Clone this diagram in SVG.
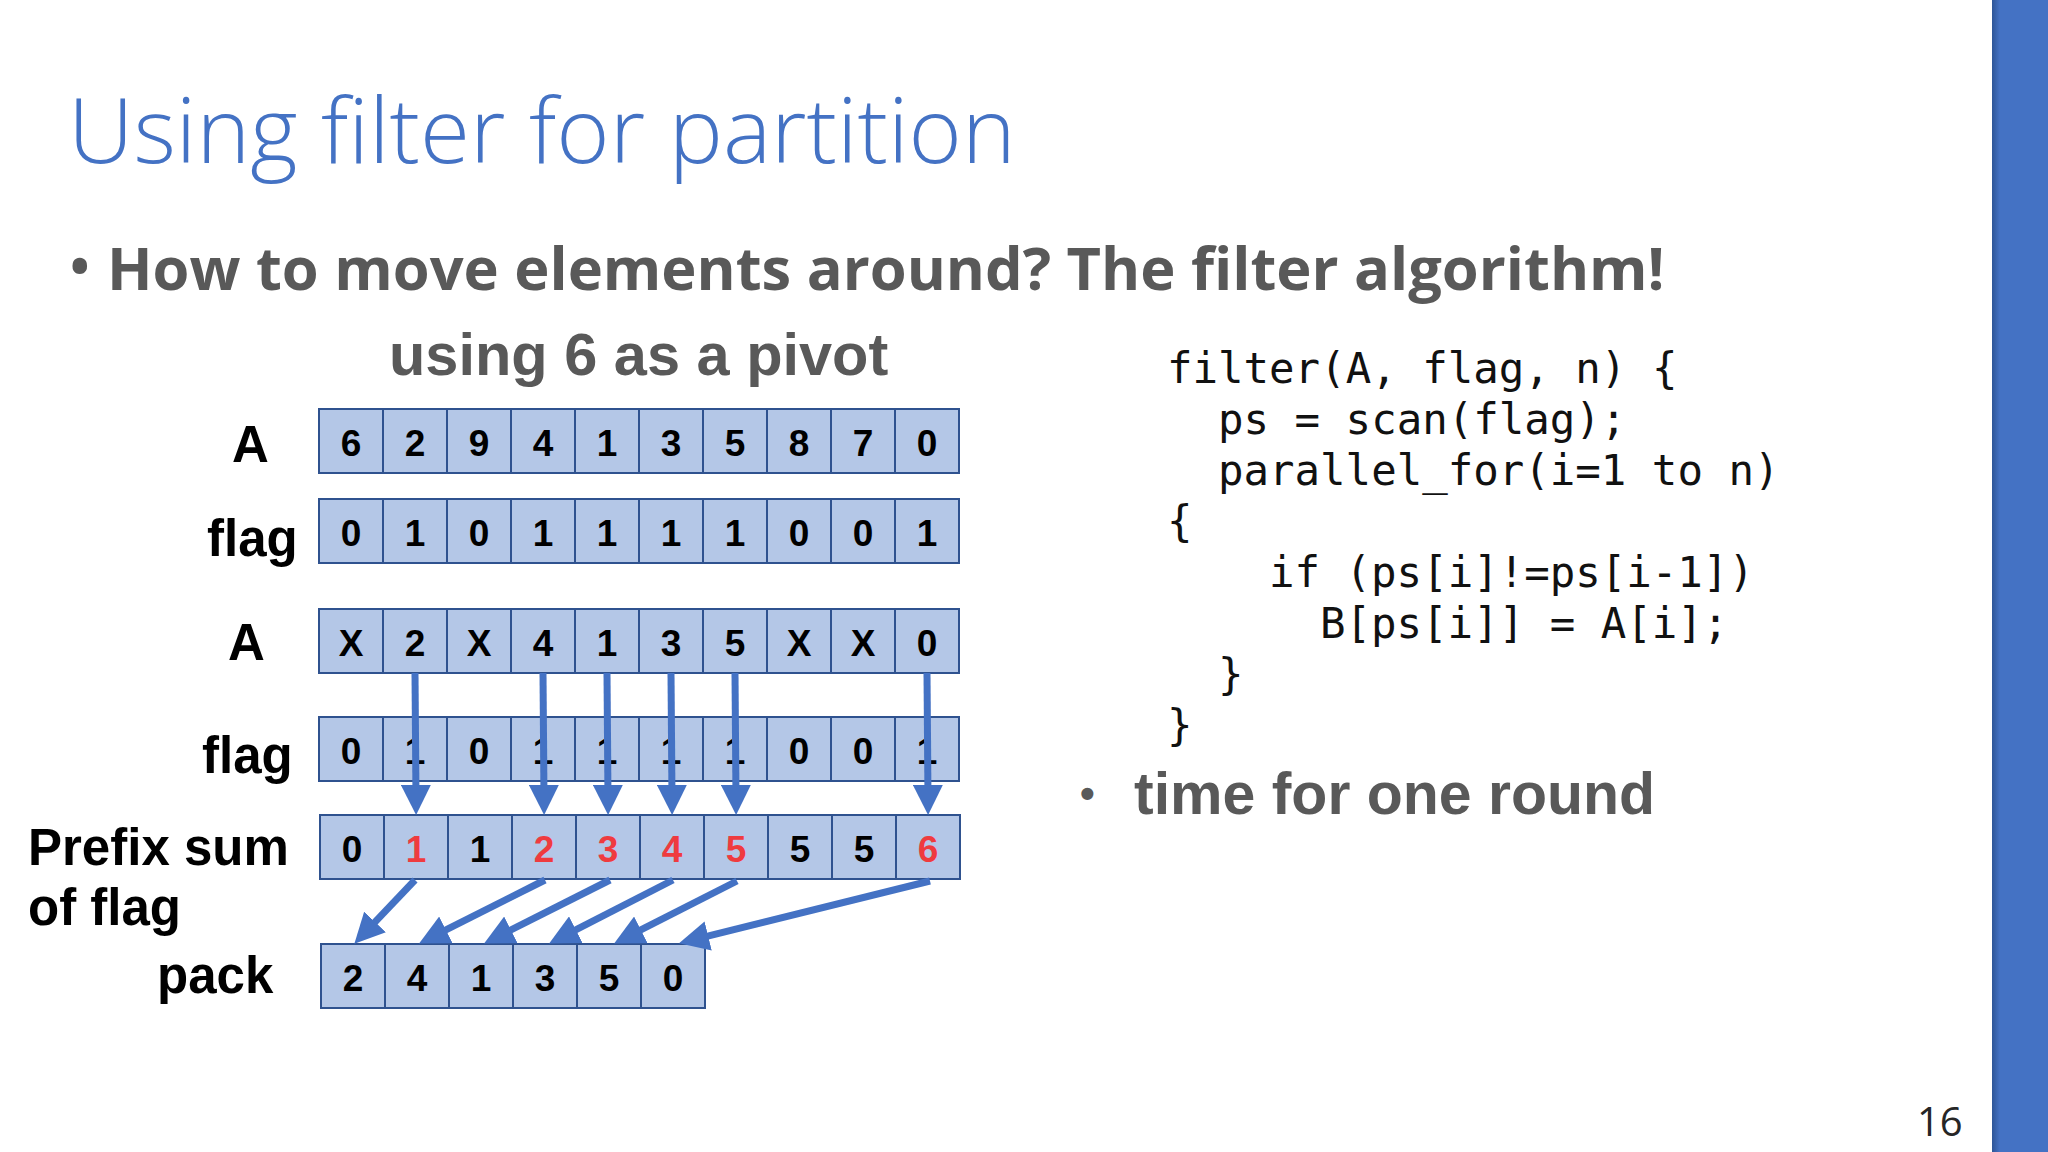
<svg xmlns="http://www.w3.org/2000/svg" width="2048" height="1152" viewBox="0 0 2048 1152">
<defs>
<style>
.cell{fill:#B4C7E7;stroke:#2F528F;stroke-width:2}
.num{font-family:"Liberation Sans",Arial,sans-serif;font-weight:bold;font-size:37px;fill:#000;text-anchor:middle}
.red{fill:#EF3B3F}
.lbl{font-family:"Liberation Sans",Arial,sans-serif;font-weight:bold;font-size:51px;fill:#000}
.code{font-family:"DejaVu Sans Mono",monospace;font-size:42.4px;fill:#111}
.arrow{stroke:#4472C4;stroke-width:7;fill:none;marker-end:url(#ah)}
</style>
<marker id="ah" markerUnits="userSpaceOnUse" markerWidth="30" markerHeight="30" refX="14" refY="14" orient="auto" viewBox="0 0 28 28">
<path d="M0,0 L28,14 L0,28 Z" fill="#4472C4"/>
</marker>
<linearGradient id="barshade" x1="0" x2="1" y1="0" y2="0">
<stop offset="0" stop-color="#2E5597"/>
<stop offset="1" stop-color="#4472C4"/>
</linearGradient>
</defs>
<rect width="2048" height="1152" fill="#fff"/>
<g id="sidebar">
<rect x="1992" y="0" width="56" height="1152" fill="#4472C4"/>
<rect x="1992" y="0" width="8" height="1152" fill="url(#barshade)"/>
</g>
<g id="title">
<text x="68" y="163" font-family="'Open Sans','Noto Sans',sans-serif" font-weight="300" font-size="91" fill="#4472C4">Using filter for partition</text>
</g>
<g id="bullet1">
<text x="70" y="285" font-family="'Open Sans','Noto Sans',sans-serif" font-weight="bold" font-size="52" fill="#595959">•</text>
<text x="107" y="290" font-family="'Open Sans','Noto Sans',sans-serif" font-weight="bold" font-size="59.6" fill="#595959">How to move elements around? The filter algorithm!</text>
</g>
<g id="pivot-caption">
<text x="389" y="375" font-family="'Liberation Sans',Arial,sans-serif" font-weight="bold" font-size="59.5" fill="#595959">using 6 as a pivot</text>
</g>
<g id="labels">
<text class="lbl" x="232" y="462">A</text>
<text class="lbl" x="207" y="556">flag</text>
<text class="lbl" x="228" y="660">A</text>
<text class="lbl" x="202" y="773">flag</text>
<text class="lbl" x="28" y="865">Prefix sum</text>
<text class="lbl" x="28" y="925">of flag</text>
<text class="lbl" x="157" y="993">pack</text>
</g>
<g id="row-A1">
<g id="a1-0"><rect class="cell" x="319" y="409" width="64" height="64"/><text class="num" x="351" y="456">6</text></g>
<g id="a1-1"><rect class="cell" x="383" y="409" width="64" height="64"/><text class="num" x="415" y="456">2</text></g>
<g id="a1-2"><rect class="cell" x="447" y="409" width="64" height="64"/><text class="num" x="479" y="456">9</text></g>
<g id="a1-3"><rect class="cell" x="511" y="409" width="64" height="64"/><text class="num" x="543" y="456">4</text></g>
<g id="a1-4"><rect class="cell" x="575" y="409" width="64" height="64"/><text class="num" x="607" y="456">1</text></g>
<g id="a1-5"><rect class="cell" x="639" y="409" width="64" height="64"/><text class="num" x="671" y="456">3</text></g>
<g id="a1-6"><rect class="cell" x="703" y="409" width="64" height="64"/><text class="num" x="735" y="456">5</text></g>
<g id="a1-7"><rect class="cell" x="767" y="409" width="64" height="64"/><text class="num" x="799" y="456">8</text></g>
<g id="a1-8"><rect class="cell" x="831" y="409" width="64" height="64"/><text class="num" x="863" y="456">7</text></g>
<g id="a1-9"><rect class="cell" x="895" y="409" width="64" height="64"/><text class="num" x="927" y="456">0</text></g>
</g>
<g id="row-flag1">
<g id="f1-0"><rect class="cell" x="319" y="499" width="64" height="64"/><text class="num" x="351" y="546">0</text></g>
<g id="f1-1"><rect class="cell" x="383" y="499" width="64" height="64"/><text class="num" x="415" y="546">1</text></g>
<g id="f1-2"><rect class="cell" x="447" y="499" width="64" height="64"/><text class="num" x="479" y="546">0</text></g>
<g id="f1-3"><rect class="cell" x="511" y="499" width="64" height="64"/><text class="num" x="543" y="546">1</text></g>
<g id="f1-4"><rect class="cell" x="575" y="499" width="64" height="64"/><text class="num" x="607" y="546">1</text></g>
<g id="f1-5"><rect class="cell" x="639" y="499" width="64" height="64"/><text class="num" x="671" y="546">1</text></g>
<g id="f1-6"><rect class="cell" x="703" y="499" width="64" height="64"/><text class="num" x="735" y="546">1</text></g>
<g id="f1-7"><rect class="cell" x="767" y="499" width="64" height="64"/><text class="num" x="799" y="546">0</text></g>
<g id="f1-8"><rect class="cell" x="831" y="499" width="64" height="64"/><text class="num" x="863" y="546">0</text></g>
<g id="f1-9"><rect class="cell" x="895" y="499" width="64" height="64"/><text class="num" x="927" y="546">1</text></g>
</g>
<g id="row-A2">
<g id="a2-0"><rect class="cell" x="319" y="609" width="64" height="64"/><text class="num" x="351" y="656">X</text></g>
<g id="a2-1"><rect class="cell" x="383" y="609" width="64" height="64"/><text class="num" x="415" y="656">2</text></g>
<g id="a2-2"><rect class="cell" x="447" y="609" width="64" height="64"/><text class="num" x="479" y="656">X</text></g>
<g id="a2-3"><rect class="cell" x="511" y="609" width="64" height="64"/><text class="num" x="543" y="656">4</text></g>
<g id="a2-4"><rect class="cell" x="575" y="609" width="64" height="64"/><text class="num" x="607" y="656">1</text></g>
<g id="a2-5"><rect class="cell" x="639" y="609" width="64" height="64"/><text class="num" x="671" y="656">3</text></g>
<g id="a2-6"><rect class="cell" x="703" y="609" width="64" height="64"/><text class="num" x="735" y="656">5</text></g>
<g id="a2-7"><rect class="cell" x="767" y="609" width="64" height="64"/><text class="num" x="799" y="656">X</text></g>
<g id="a2-8"><rect class="cell" x="831" y="609" width="64" height="64"/><text class="num" x="863" y="656">X</text></g>
<g id="a2-9"><rect class="cell" x="895" y="609" width="64" height="64"/><text class="num" x="927" y="656">0</text></g>
</g>
<g id="row-flag2">
<g id="f2-0"><rect class="cell" x="319" y="717" width="64" height="64"/><text class="num" x="351" y="764">0</text></g>
<g id="f2-1"><rect class="cell" x="383" y="717" width="64" height="64"/><text class="num" x="415" y="764">1</text></g>
<g id="f2-2"><rect class="cell" x="447" y="717" width="64" height="64"/><text class="num" x="479" y="764">0</text></g>
<g id="f2-3"><rect class="cell" x="511" y="717" width="64" height="64"/><text class="num" x="543" y="764">1</text></g>
<g id="f2-4"><rect class="cell" x="575" y="717" width="64" height="64"/><text class="num" x="607" y="764">1</text></g>
<g id="f2-5"><rect class="cell" x="639" y="717" width="64" height="64"/><text class="num" x="671" y="764">1</text></g>
<g id="f2-6"><rect class="cell" x="703" y="717" width="64" height="64"/><text class="num" x="735" y="764">1</text></g>
<g id="f2-7"><rect class="cell" x="767" y="717" width="64" height="64"/><text class="num" x="799" y="764">0</text></g>
<g id="f2-8"><rect class="cell" x="831" y="717" width="64" height="64"/><text class="num" x="863" y="764">0</text></g>
<g id="f2-9"><rect class="cell" x="895" y="717" width="64" height="64"/><text class="num" x="927" y="764">1</text></g>
</g>
<g id="row-prefix">
<g id="p-0"><rect class="cell" x="320" y="815" width="64" height="64"/><text class="num" x="352" y="862">0</text></g>
<g id="p-1"><rect class="cell" x="384" y="815" width="64" height="64"/><text class="num red" x="416" y="862">1</text></g>
<g id="p-2"><rect class="cell" x="448" y="815" width="64" height="64"/><text class="num" x="480" y="862">1</text></g>
<g id="p-3"><rect class="cell" x="512" y="815" width="64" height="64"/><text class="num red" x="544" y="862">2</text></g>
<g id="p-4"><rect class="cell" x="576" y="815" width="64" height="64"/><text class="num red" x="608" y="862">3</text></g>
<g id="p-5"><rect class="cell" x="640" y="815" width="64" height="64"/><text class="num red" x="672" y="862">4</text></g>
<g id="p-6"><rect class="cell" x="704" y="815" width="64" height="64"/><text class="num red" x="736" y="862">5</text></g>
<g id="p-7"><rect class="cell" x="768" y="815" width="64" height="64"/><text class="num" x="800" y="862">5</text></g>
<g id="p-8"><rect class="cell" x="832" y="815" width="64" height="64"/><text class="num" x="864" y="862">5</text></g>
<g id="p-9"><rect class="cell" x="896" y="815" width="64" height="64"/><text class="num red" x="928" y="862">6</text></g>
</g>
<g id="row-pack">
<g id="k-0"><rect class="cell" x="321" y="944" width="64" height="64"/><text class="num" x="353" y="991">2</text></g>
<g id="k-1"><rect class="cell" x="385" y="944" width="64" height="64"/><text class="num" x="417" y="991">4</text></g>
<g id="k-2"><rect class="cell" x="449" y="944" width="64" height="64"/><text class="num" x="481" y="991">1</text></g>
<g id="k-3"><rect class="cell" x="513" y="944" width="64" height="64"/><text class="num" x="545" y="991">3</text></g>
<g id="k-4"><rect class="cell" x="577" y="944" width="64" height="64"/><text class="num" x="609" y="991">5</text></g>
<g id="k-5"><rect class="cell" x="641" y="944" width="64" height="64"/><text class="num" x="673" y="991">0</text></g>
</g>
<g id="connectors">
<line class="arrow" x1="415" y1="673" x2="416" y2="800"/>
<line class="arrow" x1="543" y1="673" x2="544" y2="800"/>
<line class="arrow" x1="607" y1="673" x2="608" y2="800"/>
<line class="arrow" x1="671" y1="673" x2="672" y2="800"/>
<line class="arrow" x1="735" y1="673" x2="736" y2="800"/>
<line class="arrow" x1="927" y1="673" x2="928" y2="800"/>
<line class="arrow" x1="415" y1="880" x2="364.7" y2="932.9"/>
<line class="arrow" x1="545" y1="880" x2="432.5" y2="936.7"/>
<line class="arrow" x1="610" y1="880" x2="497.5" y2="936.7"/>
<line class="arrow" x1="673" y1="880" x2="562.5" y2="936.6"/>
<line class="arrow" x1="737" y1="881" x2="627.5" y2="936.7"/>
<line class="arrow" x1="930" y1="881" x2="693.6" y2="939.6"/>
</g>
<g id="code">
<text class="code" x="1167" y="383">filter(A, flag, n) {</text>
<text class="code" x="1218" y="434">ps = scan(flag);</text>
<text class="code" x="1218" y="485">parallel_for(i=1 to n)</text>
<text class="code" x="1167" y="536">{</text>
<text class="code" x="1269" y="587">if (ps[i]!=ps[i-1])</text>
<text class="code" x="1320" y="638">B[ps[i]] = A[i];</text>
<text class="code" x="1218" y="689">}</text>
<text class="code" x="1167" y="740">}</text>
</g>
<g id="bullet2">
<text x="1080" y="808" font-family="'Liberation Sans',Arial,sans-serif" font-weight="bold" font-size="42" fill="#595959">•</text>
<text x="1134" y="814" font-family="'Liberation Sans',Arial,sans-serif" font-weight="bold" font-size="59" fill="#595959">time for one round</text>
</g>
<g id="page-number">
<text x="1917" y="1136" font-family="'Open Sans','Noto Sans',sans-serif" font-size="40" fill="#262626">16</text>
</g>
</svg>
